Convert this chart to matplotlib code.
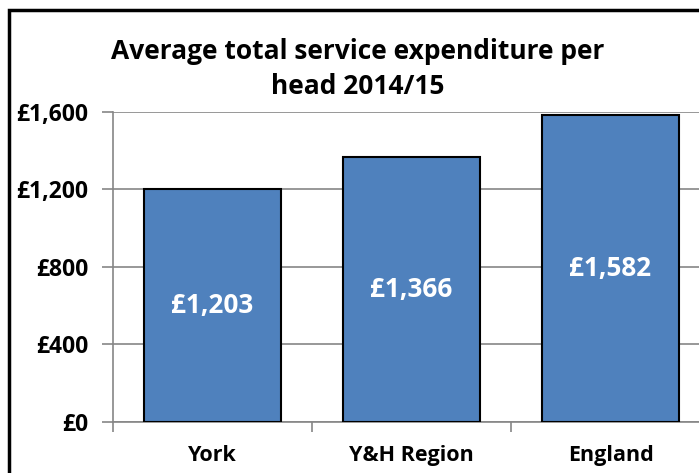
import matplotlib
matplotlib.use("Agg")
import matplotlib.pyplot as plt
from matplotlib.patches import Rectangle

categories = ["York", "Y&H Region", "England"]
values = [1203, 1366, 1582]
labels = ["£1,203", "£1,366", "£1,582"]
yticks = [0, 400, 800, 1200, 1600]
ytick_labels = ["£0", "£400", "£800", "£1,200", "£1,600"]

plt.rcParams['font.family'] = ['Open Sans', 'DejaVu Sans']
plt.rcParams['font.weight'] = 'bold'

fig = plt.figure(figsize=(6.99, 4.73), dpi=100)
ax = fig.add_axes([113 / 699, 1 - 421.7 / 473, 597 / 699, 309.7 / 473])

x = range(len(categories))
bars = ax.bar(x, values, width=0.69, color="#4F81BD", edgecolor="black", linewidth=1.5, zorder=3)

for xi, v, lab in zip(x, values, labels):
    ax.text(xi, v / 2, lab, ha="center", va="center", color="white",
            fontsize=18.8, fontweight="bold", zorder=4)

ax.set_xlim(-0.5, 2.5)
ax.set_ylim(0, 1600)
ax.set_yticks(yticks)
ax.set_yticklabels(ytick_labels, fontsize=16.5, fontweight="bold")
ax.yaxis.grid(True, color="#868686", linewidth=1.2, zorder=0)

# x ticks between the categories, labels centred under bars
ax.set_xticks([-0.5, 0.5, 1.5, 2.5])
ax.set_xticklabels([])
ax.set_xticks(list(x), minor=True)
ax.set_xticklabels(categories, minor=True, fontsize=15.5, fontweight="bold")
ax.tick_params(axis="x", which="major", length=7, color="#868686", width=1.2, direction="out")
ax.tick_params(axis="x", which="minor", length=0, pad=17)
ax.tick_params(axis="y", length=8, color="#868686", width=1.2, pad=10)

for side in ["top", "right"]:
    ax.spines[side].set_visible(False)
ax.spines["left"].set_color("#868686")
ax.spines["left"].set_linewidth(1.2)
ax.spines["bottom"].set_color("#868686")
ax.spines["bottom"].set_linewidth(1.2)

fig.text(358 / 699, 1 - 69 / 473, "Average total service expenditure per\nhead 2014/15",
         ha="center", va="center", fontsize=19, fontweight="bold", linespacing=1.35)

# chart frame (cut off at right and bottom like the reference)
fig.patches.append(Rectangle((9 / 699, -0.1), 1.1, 1 - 10 / 473 + 0.1,
                             transform=fig.transFigure, fill=False,
                             edgecolor="black", linewidth=2.5))

fig.savefig("out.png", dpi=100)
